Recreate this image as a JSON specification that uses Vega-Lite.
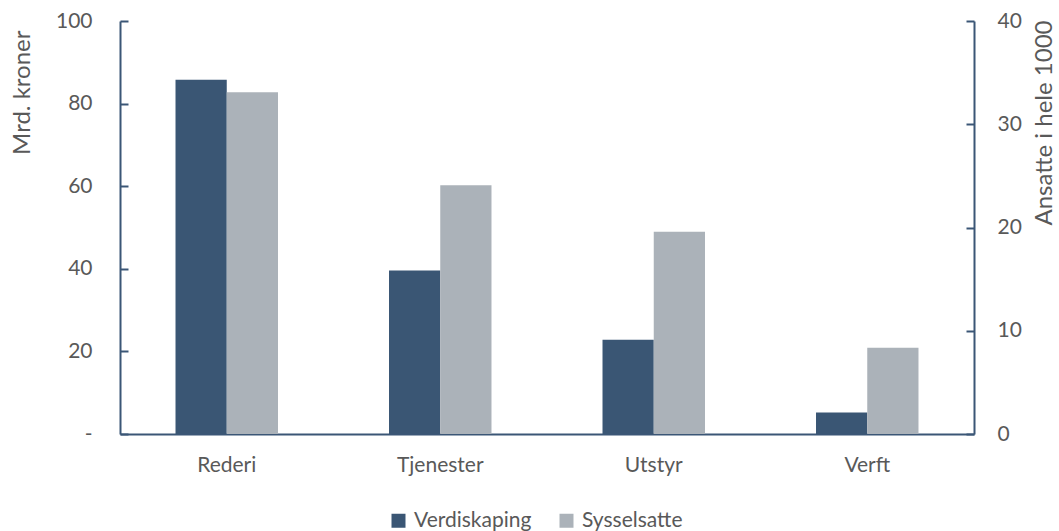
{
  "$schema": "https://vega.github.io/schema/vega-lite/v6.json",
  "width": 854,
  "height": 413,
  "padding": {"left": 120, "top": 21, "right": 85, "bottom": 97},
  "autosize": {"type": "none"},
  "background": "white",
  "config": {
    "view": {"stroke": null},
    "font": "Lato",
    "axis": {
      "labelFont": "Lato",
      "titleFont": "Lato",
      "labelFontSize": 21,
      "labelColor": "#595959",
      "titleColor": "#595959",
      "titleFontWeight": "normal",
      "domainColor": "#3B5676",
      "domainWidth": 2,
      "tickColor": "#3B5676",
      "tickWidth": 2,
      "grid": false
    },
    "legend": {"labelFont": "Lato", "labelFontSize": 21, "labelColor": "#595959"}
  },
  "data": {
    "values": [
      {"segment": "Rederi", "Verdiskaping": 85.8, "Sysselsatte": 33.1},
      {"segment": "Tjenester", "Verdiskaping": 39.6, "Sysselsatte": 24.1},
      {"segment": "Utstyr", "Verdiskaping": 22.8, "Sysselsatte": 19.6},
      {"segment": "Verft", "Verdiskaping": 5.2, "Sysselsatte": 8.35}
    ]
  },
  "encoding": {
    "x": {
      "field": "segment",
      "type": "nominal",
      "sort": null,
      "scale": {"paddingInner": 0.52, "paddingOuter": 0.26},
      "axis": {"title": null, "labelAngle": 0, "ticks": false, "labelPadding": 20}
    },
    "xOffset": {
      "datum": "Verdiskaping",
      "type": "nominal",
      "scale": {"domain": ["Verdiskaping", "Sysselsatte"], "paddingInner": 0, "paddingOuter": 0}
    }
  },
  "layer": [
    {
      "mark": {"type": "bar"},
      "encoding": {
        "xOffset": {"datum": "Verdiskaping", "type": "nominal"},
        "y": {
          "field": "Verdiskaping",
          "type": "quantitative",
          "scale": {"domain": [0, 100]},
          "axis": {
            "orient": "left",
            "title": "Mrd. kroner",
            "values": [0, 20, 40, 60, 80, 100],
            "labelExpr": "datum.value == 0 ? '-' : datum.label",
            "tickSize": -8,
            "labelPadding": 36,
            "titleFontSize": 24,
            "titleAnchor": "end",
            "titleAlign": "right",
            "titleAngle": -90,
            "titleY": 9,
            "titleX": -98,
            "titleBaseline": "middle"
          }
        },
        "color": {
          "datum": "Verdiskaping",
          "type": "nominal",
          "scale": {"domain": ["Verdiskaping", "Sysselsatte"], "range": ["#3A5674", "#ABB2B9"]},
          "legend": {
            "title": null,
            "orient": "none",
            "direction": "horizontal",
            "legendX": 268,
            "legendY": 489,
            "symbolType": "square",
            "symbolSize": 196,
            "symbolStrokeWidth": 0,
            "symbolOpacity": 1,
            "labelOffset": 5,
            "columnPadding": 24
          }
        }
      }
    },
    {
      "mark": {"type": "bar"},
      "encoding": {
        "xOffset": {"datum": "Sysselsatte", "type": "nominal"},
        "y": {
          "field": "Sysselsatte",
          "type": "quantitative",
          "scale": {"domain": [0, 40]},
          "axis": {
            "orient": "right",
            "title": "Ansatte i hele 1000",
            "values": [0, 10, 20, 30, 40],
            "tickSize": -8,
            "labelPadding": 31,
            "titleFontSize": 24,
            "titleAnchor": "end",
            "titleAlign": "right",
            "titleAngle": -90,
            "titleY": -1,
            "titleX": 70,
            "titleBaseline": "middle"
          }
        },
        "color": {"datum": "Sysselsatte", "type": "nominal"}
      }
    }
  ],
  "resolve": {"scale": {"y": "independent"}}
}
